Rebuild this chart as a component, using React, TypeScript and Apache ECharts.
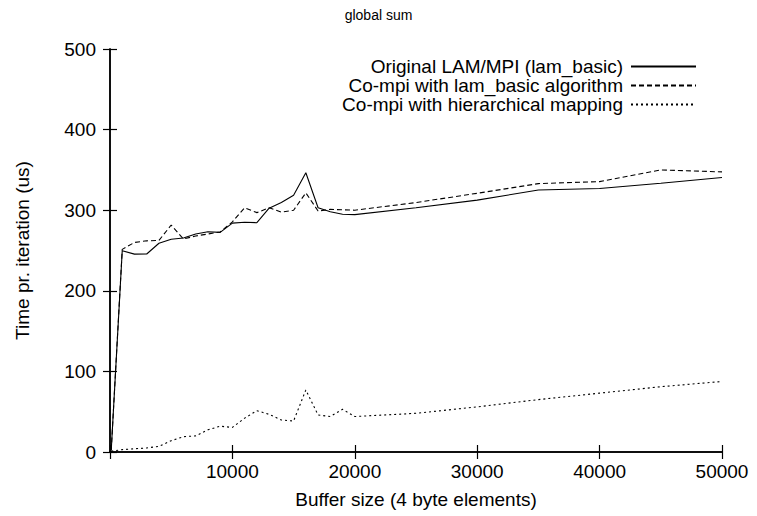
import React, { useEffect, useRef } from "react";
import * as echarts from "echarts";

const bufferSizes = [100, 1000, 2000, 3000, 4000, 5000, 6000, 7000, 8000, 9000, 10000, 11000, 12000, 13000, 14000, 15000, 16000, 17000, 18000, 19000, 20000, 25000, 30000, 35000, 40000, 45000, 50000];
const lamBasic = [2, 249.8, 245.5, 245.7, 259, 264, 265.5, 270.5, 273.3, 272.5, 284, 285, 284.5, 302.5, 309.5, 318.5, 346.5, 303, 298, 295, 294.5, 303, 312.5, 325, 327, 333.5, 340.5];
const coMpiBasic = [2, 251.4, 260, 262, 262.5, 281.6, 264.3, 268, 270.5, 273, 285.5, 303, 297, 303, 297.5, 300, 321.5, 299, 301, 300.5, 300, 309.5, 321, 333, 335.5, 350, 347.5];
const coMpiHier = [1, 3, 4, 5, 7, 14, 19, 20, 27.5, 32, 30.5, 42, 51.3, 46.7, 39.7, 38.5, 77, 46, 44, 53, 44, 48, 56, 65, 73, 81, 87.5];

const seriesNames = [
  "Original LAM/MPI (lam_basic)",
  "Co-mpi with lam_basic algorithm",
  "Co-mpi with hierarchical mapping",
];

const FONT = "Liberation Sans";

export default function App() {
  const ref = useRef<HTMLDivElement>(null);
  useEffect(() => {
    if (!ref.current) return;
    const chart = echarts.init(ref.current, null, { renderer: "svg" });
    const pairs = (ys: number[]) => bufferSizes.map((x, i) => [x, ys[i]]);
    const axisLine = { show: true, lineStyle: { color: "#000", width: 1.5 } };
    const tick = { show: true, inside: true, length: 7, lineStyle: { color: "#000", width: 1.2 } };
    const mkSeries = (name: string, data: number[], type: any) => ({
      name,
      type: "line",
      data: pairs(data),
      symbol: "none",
      showSymbol: false,
      lineStyle: { color: "#000", width: 1.1, type },
      itemStyle: { color: "#000" },
    });
    chart.setOption({
      animation: false,
      backgroundColor: "#fff",
      title: {
        text: "global sum",
        left: "center",
        top: 3,
        textStyle: { fontFamily: FONT, fontSize: 14, fontWeight: "normal", color: "#000" },
      },
      legend: {
        data: seriesNames,
        orient: "vertical",
        align: "right",
        right: 60,
        top: 57,
        padding: 0,
        itemWidth: 65,
        itemHeight: 12,
        itemGap: 0,
        selectedMode: false,
        itemStyle: { opacity: 0, borderWidth: 0, color: "transparent" },
        textStyle: { fontFamily: FONT, fontSize: 19, color: "#000", lineHeight: 19, padding: [0, 3, 0, 0] },
      },
      grid: { left: 110, right: 35, top: 49, bottom: 64, containLabel: false, outerBoundsMode: "none" },
      xAxis: [
        {
          type: "value",
          min: 0,
          max: 50000,
          interval: 10000,
          position: "bottom",
          name: "Buffer size (4 byte elements)",
          nameLocation: "middle",
          nameGap: 38,
          nameTextStyle: { fontFamily: FONT, fontSize: 19, color: "#000" },
          axisLine,
          axisTick: tick,
          splitLine: { show: false },
          axisLabel: {
            fontFamily: FONT,
            fontSize: 19,
            color: "#000",
            margin: 10,
            formatter: (v: number) => (v === 0 ? "" : String(v)),
          },
        },
        {
          type: "value",
          min: 0,
          max: 50000,
          interval: 10000,
          position: "top",
          axisLine,
          axisTick: tick,
          splitLine: { show: false },
          axisLabel: { show: false },
        },
      ],
      yAxis: [
        {
          type: "value",
          min: 0,
          max: 500,
          interval: 100,
          position: "left",
          name: "Time pr. iteration (us)",
          nameLocation: "middle",
          nameGap: 78,
          nameTextStyle: { fontFamily: FONT, fontSize: 19, color: "#000" },
          axisLine,
          axisTick: tick,
          splitLine: { show: false },
          axisLabel: { fontFamily: FONT, fontSize: 19, color: "#000", margin: 14 },
        },
        {
          type: "value",
          min: 0,
          max: 500,
          interval: 100,
          position: "right",
          axisLine,
          axisTick: tick,
          splitLine: { show: false },
          axisLabel: { show: false },
        },
      ],
      series: [
        mkSeries(seriesNames[0], lamBasic, "solid"),
        mkSeries(seriesNames[1], coMpiBasic, [5, 3]),
        mkSeries(seriesNames[2], coMpiHier, [2, 3]),
      ],
    });
    return () => chart.dispose();
  }, []);
  return <div ref={ref} style={{ position: "fixed", left: 0, top: 0, width: 757, height: 516 }} />;
}
